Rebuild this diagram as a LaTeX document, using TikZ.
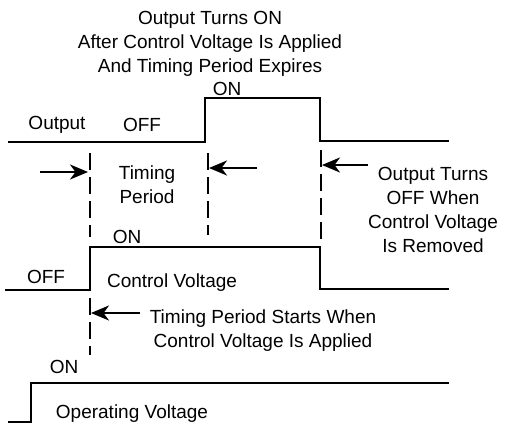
\documentclass[tikz,border=0pt]{standalone}
\usepackage{fontspec}
\setmainfont{Liberation Sans}
\usetikzlibrary{arrows.meta}
\begin{document}
\begin{tikzpicture}[x=1pt,y=-1pt,
 wave/.style={line width=2.8pt, line join=miter},
 guide/.style={line width=2.6pt, dash pattern=on 17pt off 7pt},
 pointer/.style={line width=2.6pt, -{Stealth[length=18pt,width=15pt,inset=5.5pt]}},
 lbl/.style={font=\fontsize{19}{24}\selectfont, inner sep=0pt, align=center}]
\useasboundingbox (0,0) rectangle (505,423);
% waveforms
\draw[wave] (8,142) -- (205,142) -- (205,98) -- (320,98) -- (320,141) -- (449,141);
\draw[wave] (5,290) -- (90,290) -- (90,247) -- (320,247) -- (320,289) -- (449,289);
\draw[wave] (8,422) -- (31,422) -- (31,383) -- (449,383);
% guide lines
\coordinate (g1a) at (90,153); \coordinate (g1b) at (90,237);
\coordinate (g2a) at (90,298); \coordinate (g2b) at (90,355);
\coordinate (g3a) at (208,153); \coordinate (g3b) at (208,235);
\coordinate (g4a) at (321,150); \coordinate (g4b) at (321,242);
\draw[guide] (g1a) -- (g1b);
\draw[guide] (g2a) -- (g2b);
\draw[guide] (g3a) -- (g3b);
\draw[guide] (g4a) -- (g4b);
% arrows
\coordinate (a1s) at (40,172); \coordinate (a1e) at (88,172);
\coordinate (a2s) at (257,168); \coordinate (a2e) at (209,168);
\coordinate (a3s) at (368,165); \coordinate (a3e) at (322,165);
\coordinate (a4s) at (140,313); \coordinate (a4e) at (91,313);
\draw[pointer] (a1s) -- (a1e);
\draw[pointer] (a2s) -- (a2e);
\draw[pointer] (a3s) -- (a3e);
\draw[pointer] (a4s) -- (a4e);
% labels
\node[lbl] (title) at (210,44) {Output Turns ON\\After Control Voltage Is Applied\\And Timing Period Expires};
\node[lbl] (on1) at (227,89) {ON};
\node[lbl] (outl) at (57,125) {Output};
\node[lbl] (off1) at (142,125) {OFF};
\node[lbl] (tp) at (147,185) {Timing\\Period};
\node[lbl] (otoff) at (433,210) {Output Turns\\OFF When\\Control Voltage\\Is Removed};
\node[lbl] (on2) at (127,237) {ON};
\node[lbl] (off2) at (46,277) {OFF};
\node[lbl] (cv) at (172,283) {Control Voltage};
\node[lbl] (tps) at (263,331) {Timing Period Starts When\\Control Voltage Is Applied};
\node[lbl] (on3) at (64,367) {ON};
\node[lbl] (opv) at (132,414) {Operating Voltage};
\end{tikzpicture}
\end{document}
